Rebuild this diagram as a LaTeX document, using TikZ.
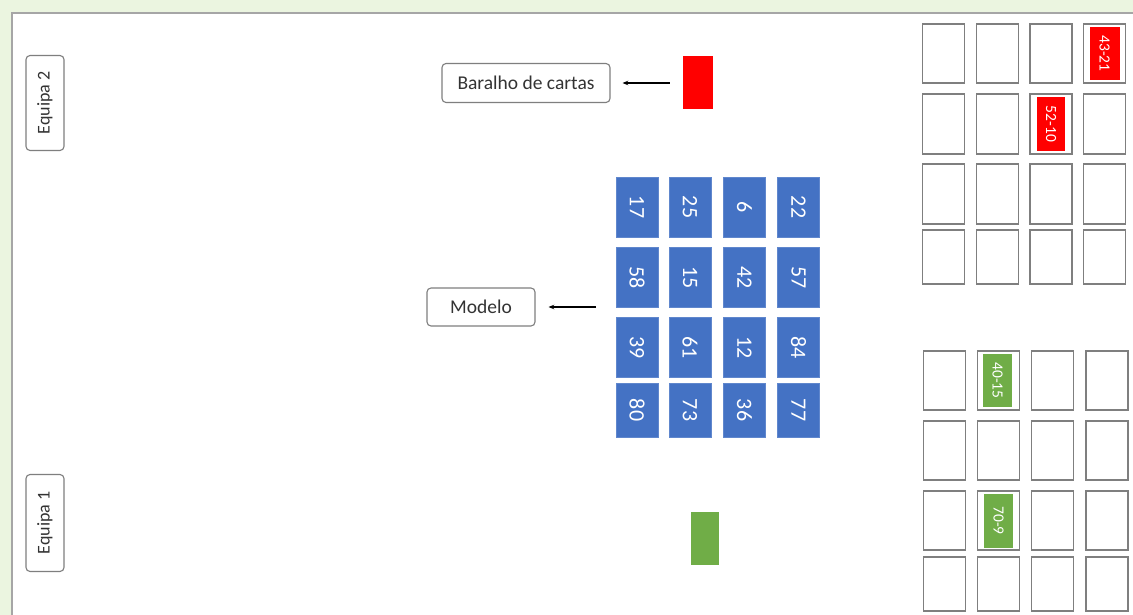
\documentclass[tikz,border=0pt]{standalone}
\usepackage{fontspec}
\setmainfont{Carlito}
\usepackage{tikz}
\usetikzlibrary{arrows.meta,positioning}
\definecolor{bgc}{HTML}{EBF5E0}
\definecolor{framec}{HTML}{A6A6A6}
\definecolor{cardc}{HTML}{4472C4}
\definecolor{redc}{HTML}{FF0000}
\definecolor{grnc}{HTML}{70AD47}
\definecolor{linec}{HTML}{7F7F7F}
\definecolor{txtc}{HTML}{333333}
\tikzset{
  ar/.style={-{Stealth[length=2mm,width=1.6mm]},line width=1.2pt,black},
  lbl/.style={draw=linec,line width=1.1pt,rounded corners=4pt,fill=white,text=txtc,
    font=\fontsize{19.5}{21}\selectfont,inner sep=0pt},
  card/.style={fill=cardc,draw=cardc!85!white,text=white,rotate=-90,inner sep=0pt,
    minimum width=60pt,minimum height=42pt,font=\fontsize{22}{23}\selectfont},
  cell/.style={draw=linec,line width=1.3pt,fill=white,minimum width=42pt,minimum height=59pt,inner sep=0pt},
  chip/.style={text=white,rotate=-90,inner sep=0pt,minimum width=53pt,minimum height=29pt,
    font=\fontsize{15.5}{16}\selectfont}
}

\begin{document}
\begin{tikzpicture}[x=1pt,y=-1pt]
\useasboundingbox (0,0) rectangle (1133,615);
\fill[bgc] (0,0) rectangle (1133,615);
\begin{scope}
\clip (0,0) rectangle (1133,615);
\draw[framec,line width=1.8pt,fill=white] (12,13) rectangle (1150,630);
\end{scope}

% teams
\node[lbl,rotate=90,minimum width=95pt,minimum height=38pt,font=\fontsize{18}{20}\selectfont] (eq2) at (45,103) {Equipa 2};
\node[lbl,rotate=90,minimum width=97pt,minimum height=38pt,font=\fontsize{18}{20}\selectfont] (eq1) at (45,523) {Equipa 1};

% deck and model
\node[fill=redc,minimum width=30pt,minimum height=53pt,inner sep=0pt] (deck) at (698,83) {};
\node[lbl,minimum width=168pt,minimum height=39pt] (baralho) at (526,83) {Baralho de cartas};
\draw[ar,shorten <=13pt,shorten >=12pt] (deck) -- (baralho);

\foreach \n [count=\i from 0] in {17,25,6,22,58,15,42,57,39,61,12,84,80,73,36,77}{
  \pgfmathtruncatemacro{\r}{int(\i/4)+1}
  \pgfmathtruncatemacro{\c}{mod(\i,4)+1}
  \pgfmathsetmacro{\cx}{{637,690,744.5,798.5}[\c-1]}
  \pgfmathsetmacro{\cy}{{207,277.5,347.5,410}[\r-1]}
  \pgfmathsetmacro{\ch}{{60,60,60,54}[\r-1]}
  \node[card,minimum width=\ch pt] (m\r\c) at (\cx,\cy) {\n};
}
\node[lbl,minimum width=108pt,minimum height=38pt] (modelo) at (481,307) {Modelo};
\coordinate (mstart) at (596,307);
\draw[ar,shorten >=13pt] (mstart) -- (modelo);

\node[fill=grnc,minimum width=28pt,minimum height=53pt,inner sep=0pt] (pile) at (705,538) {};

% boards
\foreach \r/\y/\h in {1/53.5/59,2/124/60,3/194/60,4/257/54}{
  \foreach \c/\x in {1/943.5,2/997.5,3/1051,4/1104.5}{
    \node[cell,minimum height=\h pt] (u\r\c) at (\x,\y) {};
  }
}
\foreach \r/\y/\h in {1/380.5/59,2/450.5/59,3/520.5/59,4/584/54}{
  \foreach \c/\x in {1/944.5,2/998.5,3/1052.5,4/1107}{
    \node[cell,minimum height=\h pt] (d\r\c) at (\x,\y) {};
  }
}
\node[chip,fill=redc,minimum height=30pt] at (u14) {43-21};
\node[chip,fill=redc,minimum height=28pt,minimum width=54pt] at (u23) {52-10};
\node[chip,fill=grnc] at ([xshift=-1pt]d12.center) {40-15};
\node[chip,fill=grnc,minimum width=54pt] at (d32) {70-9};
\end{tikzpicture}
\end{document}
